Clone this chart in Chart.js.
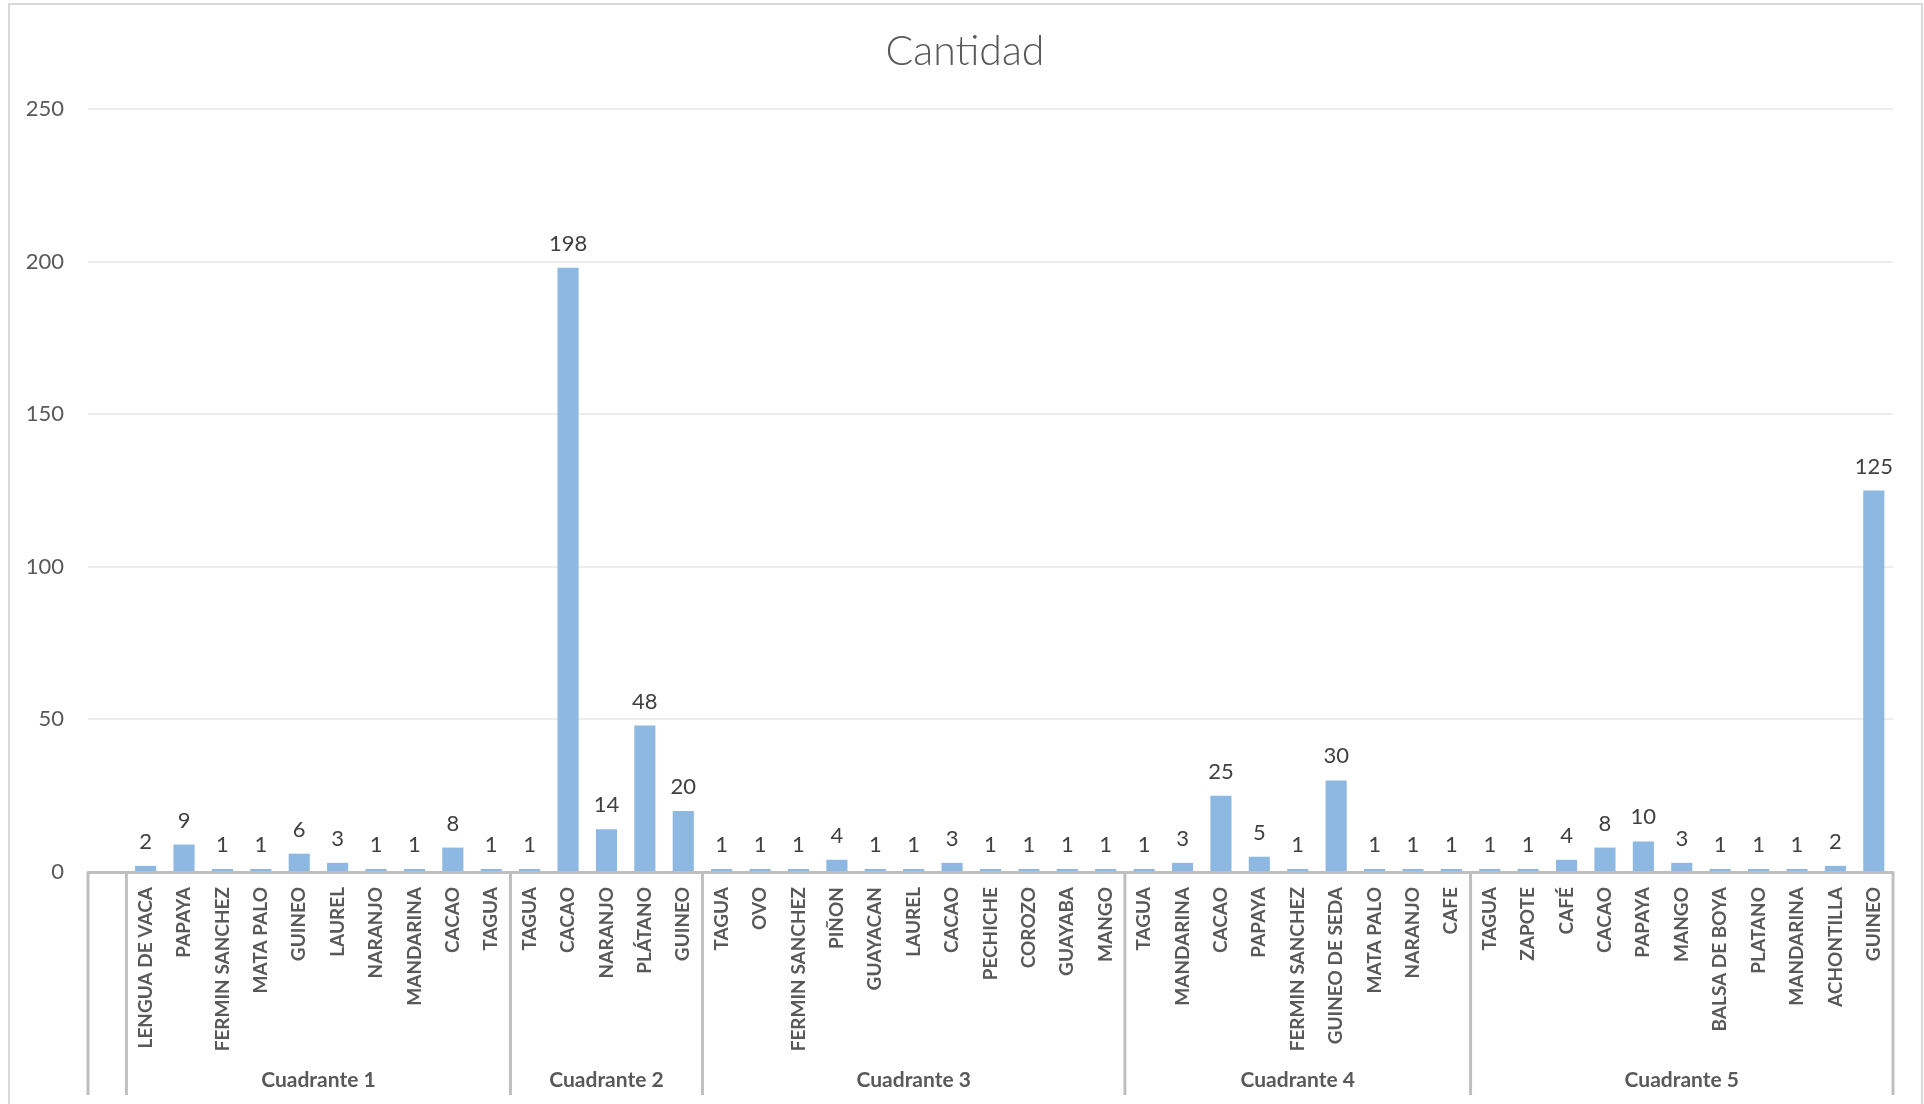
<!DOCTYPE html>
<html>
<head>
<meta charset="utf-8">
<script src="https://cdn.jsdelivr.net/npm/chart.js@4.4.1/dist/chart.umd.min.js"></script>
<style>
  html, body { margin: 0; padding: 0; background: #ffffff; }
</style>
</head>
<body>
<canvas id="myChart" width="1924" height="1104"></canvas>
<script>
"use strict";

var title = "Cantidad";
var groupNames = ["Cuadrante 1", "Cuadrante 2", "Cuadrante 3", "Cuadrante 4", "Cuadrante 5"];

var q1Labels = ["LENGUA DE VACA", "PAPAYA", "FERMIN SANCHEZ", "MATA PALO", "GUINEO", "LAUREL", "NARANJO", "MANDARINA", "CACAO", "TAGUA"];
var q1Values = [2, 9, 1, 1, 6, 3, 1, 1, 8, 1];

var q2Labels = ["TAGUA", "CACAO", "NARANJO", "PLÁTANO", "GUINEO"];
var q2Values = [1, 198, 14, 48, 20];

var q3Labels = ["TAGUA", "OVO", "FERMIN SANCHEZ", "PIÑON", "GUAYACAN", "LAUREL", "CACAO", "PECHICHE", "COROZO", "GUAYABA", "MANGO"];
var q3Values = [1, 1, 1, 4, 1, 1, 3, 1, 1, 1, 1];

var q4Labels = ["TAGUA", "MANDARINA", "CACAO", "PAPAYA", "FERMIN SANCHEZ", "GUINEO DE SEDA", "MATA PALO", "NARANJO", "CAFE"];
var q4Values = [1, 3, 25, 5, 1, 30, 1, 1, 1];

var q5Labels = ["TAGUA", "ZAPOTE", "CAFÉ", "CACAO", "PAPAYA", "MANGO", "BALSA DE BOYA", "PLATANO", "MANDARINA", "ACHONTILLA", "GUINEO"];
var q5Values = [1, 1, 4, 8, 10, 3, 1, 1, 1, 2, 125];

var yTicks = [0, 50, 100, 150, 200, 250];

// first slot is the empty category Excel leaves at the left
var groupLabels = [q1Labels, q2Labels, q3Labels, q4Labels, q5Labels];
var groupValues = [q1Values, q2Values, q3Values, q4Values, q5Values];

var labels = [""];
var values = [null];
var bounds = [0, 1];
for (var g = 0; g < groupLabels.length; g++) {
  labels = labels.concat(groupLabels[g]);
  values = values.concat(groupValues[g]);
  bounds.push(labels.length);
}

var FONT = "Lato, 'Open Sans', sans-serif";

var excelDecor = {
  id: "excelDecor",
  beforeDraw: function (chart) {
    var ctx = chart.ctx;
    ctx.save();
    ctx.fillStyle = "#ffffff";
    ctx.fillRect(0, 0, chart.width, chart.height);
    ctx.strokeStyle = "#D9D9D9";
    ctx.lineWidth = 2;
    ctx.strokeRect(9, 4, 1913, 1300);
    ctx.fillStyle = "#595959";
    ctx.font = "300 41px " + FONT;
    ctx.textAlign = "center";
    ctx.textBaseline = "alphabetic";
    ctx.fillText(title, 965, 65);
    ctx.restore();
  },
  afterDatasetsDraw: function (chart) {
    var ctx = chart.ctx;
    var meta = chart.getDatasetMeta(0);
    ctx.save();
    ctx.fillStyle = "#404040";
    ctx.font = "22px " + FONT;
    ctx.textAlign = "center";
    ctx.textBaseline = "alphabetic";
    meta.data.forEach(function (bar, i) {
      if (values[i] === null) return;
      ctx.fillText(String(values[i]), bar.x, bar.y - 17);
    });
    ctx.restore();
  },
  afterDraw: function (chart) {
    var ctx = chart.ctx;
    var area = chart.chartArea;
    var w = (area.right - area.left) / labels.length;
    ctx.save();
    ctx.strokeStyle = "#BFBFBF";
    ctx.lineWidth = 3;
    bounds.forEach(function (b) {
      var x = area.left + b * w;
      ctx.beginPath();
      ctx.moveTo(x, area.bottom);
      ctx.lineTo(x, 1095);
      ctx.stroke();
    });
    ctx.fillStyle = "#595959";
    ctx.font = "bold 21px " + FONT;
    ctx.textAlign = "center";
    ctx.textBaseline = "middle";
    for (var k = 0; k < groupNames.length; k++) {
      var x0 = area.left + bounds[k + 1] * w;
      var x1 = area.left + bounds[k + 2] * w;
      ctx.fillText(groupNames[k], (x0 + x1) / 2, 1080);
    }
    ctx.restore();
  }
};

new Chart(document.getElementById("myChart"), {
  type: "bar",
  data: {
    labels: labels,
    datasets: [
      {
        label: title,
        data: values,
        backgroundColor: "#8DB8E2",
        barPercentage: 0.55,
        categoryPercentage: 1.0
      }
    ]
  },
  options: {
    responsive: false,
    animation: false,
    devicePixelRatio: 1,
    layout: { padding: { top: 109, right: 31, left: 0, bottom: 0 } },
    plugins: {
      legend: { display: false },
      title: { display: false },
      tooltip: { enabled: false }
    },
    scales: {
      x: {
        grid: { drawOnChartArea: false, drawTicks: false },
        border: { color: "#BFBFBF", width: 3 },
        ticks: {
          autoSkip: false,
          minRotation: 90,
          maxRotation: 90,
          padding: 15,
          color: "#595959",
          font: { family: FONT, size: 19, weight: "bold" }
        },
        afterFit: function (scale) { scale.height = 232; }
      },
      y: {
        min: 0,
        max: 250,
        afterBuildTicks: function (scale) {
          scale.ticks = yTicks.map(function (v) { return { value: v }; });
        },
        grid: { color: "#EDEDED", lineWidth: 2, drawTicks: false },
        border: { display: false },
        ticks: {
          padding: 24,
          color: "#595959",
          font: { family: FONT, size: 22 }
        },
        afterFit: function (scale) { scale.width = 88; }
      }
    }
  },
  plugins: [excelDecor]
});
</script>
</body>
</html>
